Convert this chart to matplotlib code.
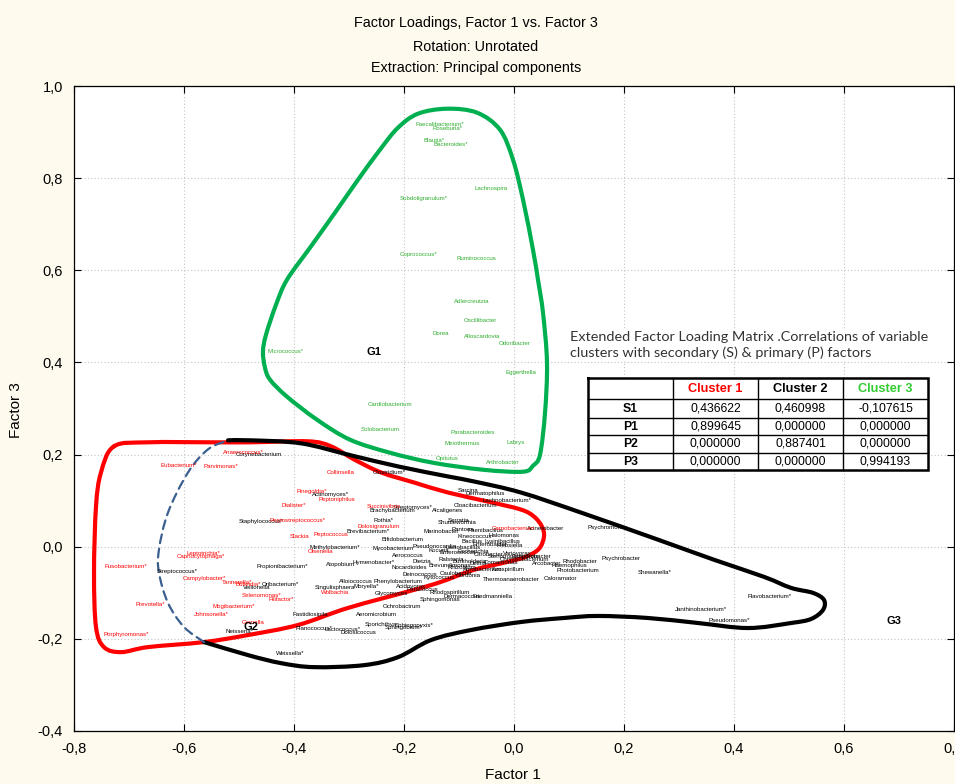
import numpy as np
import matplotlib
matplotlib.use("Agg")
import matplotlib.pyplot as plt
from matplotlib import font_manager
from matplotlib.path import Path
from matplotlib.patches import PathPatch
from matplotlib.ticker import FuncFormatter, MultipleLocator

# ---------------------------------------------------------------- fonts
_names = {f.name for f in font_manager.fontManager.ttflist}
SANS = "Liberation Sans"
NARROW = "Liberation Sans Narrow" if "Liberation Sans Narrow" in _names else SANS
TITLE_SIZE = 11.5 if NARROW != SANS else 10.4
NOTE_FONT = "Lato" if "Lato" in _names else SANS

# ---------------------------------------------------------------- data
# Cluster 3 (G1) variables: name, Factor 1 loading, Factor 3 loading
green_names = ["Faecalibacterium*", "Roseburia*", "Blautia*", "Bacteroides*", "Lachnospira",
               "Subdoligranulum*", "Coprococcus*", "Ruminococcus", "Adlercreutzia", "Oscillibacter",
               "Dorea", "Alloscardovia", "Odoribacter", "Micrococcus*", "Eggerthella",
               "Cardiobacterium", "Solobacterium", "Parabacteroides", "Labrys", "Meiothermus",
               "Opitutus", "Arthrobacter"]
green_x = [-0.180, -0.149, -0.165, -0.147, -0.071, -0.207, -0.207, -0.105, -0.109, -0.091,
           -0.149, -0.091, -0.027, -0.449, -0.015, -0.265, -0.278, -0.115, -0.013, -0.127,
           -0.142, -0.051]
green_y = [0.916, 0.907, 0.881, 0.873, 0.777, 0.755, 0.634, 0.625, 0.532, 0.491,
           0.462, 0.456, 0.441, 0.423, 0.378, 0.308, 0.254, 0.247, 0.226, 0.224,
           0.191, 0.182]

# Cluster 1 variables
red_names = ["Anaerococcus*", "Eubacterium*", "Parvimonas*", "Collinsella", "Finegoldia*",
             "Peptoniphilus", "Dialister*", "Succinivibrio", "Peptostreptococcus*", "Dolosigranulum",
             "Slackia", "Peptococcus", "Olsenella", "Carnobacterium", "Leptotrichia*",
             "Capnocytophaga*", "Fusobacterium*", "Campylobacter*", "Tannerella*", "Bulleidia*",
             "Selenomonas*", "Filifactor*", "Prevotella*", "Mogibacterium*", "Johnsonella*",
             "Gemella", "Wolbachia", "Porphyromonas*"]
red_x = [-0.529, -0.642, -0.565, -0.340, -0.396, -0.356, -0.422, -0.267, -0.444, -0.284,
         -0.407, -0.365, -0.375, -0.040, -0.596, -0.613, -0.744, -0.602, -0.531, -0.507,
         -0.495, -0.447, -0.689, -0.549, -0.582, -0.495, -0.351, -0.747]
red_y = [0.204, 0.176, 0.174, 0.161, 0.119, 0.102, 0.089, 0.087, 0.056, 0.043,
         0.022, 0.026, -0.011, 0.039, -0.015, -0.022, -0.043, -0.069, -0.078, -0.082,
         -0.106, -0.115, -0.126, -0.130, -0.148, -0.165, -0.100, -0.191]

# Cluster 2 variables
black_names = ["Corynebacterium", "Clostridium*", "Actinomyces*", "Streptomyces*", "Brachybacterium",
               "Alcaligenes", "Staphylococcus*", "Rothia*", "Brevibacterium*", "Marinobacter",
               "Bifidobacterium", "Methylobacterium*", "Mycobacterium", "Pseudonocardia",
               "Propionibacterium*", "Streptococcus*", "Veillonella", "Oribacterium*", "Atopobium",
               "Hymenobacter*", "Aerococcus", "Nocardioides", "Deinococcus", "Alloiococcus",
               "Phenylobacterium", "Moryella*", "Singulisphaera", "Glycomyces", "Ochrobactrum",
               "Fastidiosipila", "Aeromicrobium", "Planococcus*", "Lactococcus*", "Dolosicoccus",
               "Sporichthya", "Sphingobium*", "Sphingopyxis*", "Neisseria*", "Weissella*",
               "Rhodospirillum", "Sphingomonas", "Dermacoccus", "Friedmanniella",
               "Thermoanaerobacter", "Azospirillum", "Caloramator", "Photobacterium", "Arcobacter",
               "Haemophilus", "Rhodobacter", "Psychrobacter", "Psychromonas", "Shewanella*",
               "Janthinobacterium*", "Pseudomonas*", "Flavobacterium*", "Acinetobacter",
               "Cloacibacterium", "Sarcina", "Dermatophilus", "Lachnobacterium*", "Serratia",
               "Shuttleworthia", "Pantoea", "Paenibacillus", "Kineococcus", "Halomonas", "Bacillus",
               "Enterobacter", "Lysinibacillus", "Klebsiella", "Lactobacillus", "Kocuria",
               "Enterococcus", "Escherichia", "Citrobacter", "Stenotrophomonas", "Variovorax",
               "Enhydrobacter", "Chryseobacterium", "Ralstonia", "Burkholderia", "Delftia",
               "Comamonas", "Brevundimonas", "Rhizobium", "Agrobacterium", "Caulobacter",
               "Gordonia", "Kytococcus", "Dietzia", "Paracoccus", "Acidovorax"]
black_x = [-0.505, -0.256, -0.367, -0.220, -0.262, -0.149, -0.500, -0.256, -0.305, -0.165,
           -0.240, -0.371, -0.258, -0.185, -0.469, -0.649, -0.493, -0.458, -0.342, -0.293,
           -0.222, -0.222, -0.202, -0.318, -0.256, -0.291, -0.362, -0.253, -0.238, -0.402,
           -0.287, -0.398, -0.344, -0.316, -0.271, -0.235, -0.216, -0.524, -0.433, -0.153,
           -0.171, -0.129, -0.076, -0.056, -0.040, 0.055, 0.078, 0.033, 0.069, 0.089,
           0.160, 0.133, 0.225, 0.293, 0.353, 0.425, 0.024, -0.109, -0.102, -0.089,
           -0.058, -0.120, -0.138, -0.113, -0.084, -0.102, -0.047, -0.095, -0.076, -0.053,
           -0.031, -0.125, -0.156, -0.135, -0.102, -0.073, -0.047, -0.020, -0.004, -0.025,
           -0.138, -0.111, -0.080, -0.055, -0.156, -0.120, -0.093, -0.135, -0.105, -0.165,
           -0.185, -0.196, -0.215]
black_y = [0.200, 0.161, 0.113, 0.085, 0.078, 0.078, 0.054, 0.056, 0.033, 0.033,
           0.015, -0.002, -0.004, 0.000, -0.043, -0.054, -0.089, -0.082, -0.039, -0.035,
           -0.020, -0.046, -0.061, -0.076, -0.076, -0.087, -0.089, -0.102, -0.130, -0.148,
           -0.148, -0.178, -0.180, -0.187, -0.169, -0.176, -0.171, -0.185, -0.232, -0.100,
           -0.115, -0.109, -0.109, -0.072, -0.050, -0.069, -0.052, -0.037, -0.041, -0.033,
           -0.026, 0.041, -0.056, -0.137, -0.161, -0.109, 0.039, 0.089, 0.122, 0.115,
           0.100, 0.056, 0.052, 0.037, 0.035, 0.022, 0.024, 0.011, 0.004, 0.011,
           0.002, -0.002, -0.009, -0.013, -0.011, -0.017, -0.022, -0.015, -0.022, -0.028,
           -0.028, -0.033, -0.037, -0.035, -0.041, -0.046, -0.050, -0.059, -0.063, -0.067,
           -0.033, -0.093, -0.087]

# Group tags
group_names = ["G1", "G2", "G3"]
group_x = [-0.269, -0.491, 0.678]
group_y = [0.423, -0.174, -0.161]

# Hand-drawn cluster outlines (Factor 1, Factor 3); closed outlines list each vertex once
g1_outline_x = [-0.4564, -0.4509, -0.4327, -0.4127, -0.3709, -0.3255, -0.2836, -0.2436, -0.2109,
                -0.1745, -0.1218, -0.0673, -0.0255, -0.0018, 0.0164, 0.0345, 0.0436, 0.0527,
                0.0600, 0.0564, 0.0473, 0.0345, 0.0164, -0.0564, -0.1473, -0.2255, -0.2982,
                -0.3582, -0.4127, -0.4436, -0.4527]
g1_outline_y = [0.4233, 0.4602, 0.5253, 0.5796, 0.6490, 0.7250, 0.7966, 0.8618, 0.9095,
                0.9399, 0.9507, 0.9421, 0.9051, 0.8400, 0.7532, 0.6447, 0.5795, 0.5079,
                0.3994, 0.2909, 0.1997, 0.1758, 0.1628, 0.1671, 0.1823, 0.2040, 0.2323,
                0.2757, 0.3256, 0.3625, 0.3885]

c1_outline_x = [-0.7273, -0.6655, -0.5455, -0.4782, -0.3745, -0.3327, -0.2909, -0.2418, -0.1818,
                -0.1200, -0.0473, 0.0127, 0.0364, 0.0509, 0.0545, 0.0455, 0.0218, -0.0109,
                -0.0727, -0.1327, -0.1818, -0.3018, -0.3927, -0.4836, -0.5636, -0.6655,
                -0.7145, -0.7455, -0.7600, -0.7636, -0.7600, -0.7509]
c1_outline_y = [0.2179, 0.2266, 0.2266, 0.2266, 0.2288, 0.2179, 0.1895, 0.1612, 0.1394,
                0.1176, 0.0980, 0.0806, 0.0654, 0.0436, 0.0218, -0.0044, -0.0218, -0.0327,
                -0.0501, -0.0763, -0.0937, -0.1329, -0.1699, -0.1917, -0.2070, -0.2179,
                -0.2288, -0.2179, -0.1743, -0.0566, 0.0871, 0.1612]

c2_outline_x = [-0.5200, -0.4782, -0.3873, -0.2964, -0.2109, -0.1200, -0.0727, 0.0127, 0.1218,
                0.2618, 0.3636, 0.4545, 0.5036, 0.5436, 0.5636, 0.5618, 0.5400, 0.5036,
                0.4255, 0.3345, 0.2436, 0.1527, 0.0909, 0.0127, -0.0782, -0.1509, -0.2109,
                -0.2727, -0.3636, -0.4236, -0.4836, -0.5636]
c2_outline_y = [0.2309, 0.2309, 0.2244, 0.1983, 0.1743, 0.1525, 0.1416, 0.1176, 0.0741,
                0.0153, -0.0283, -0.0654, -0.0893, -0.1002, -0.1155, -0.1373, -0.1569, -0.1656,
                -0.1765, -0.1656, -0.1547, -0.1503, -0.1547, -0.1634, -0.1808, -0.2026, -0.2397,
                -0.2571, -0.2614, -0.2527, -0.2353, -0.2070]

c2_edge_x = [-0.5636, -0.6000, -0.6291, -0.6455, -0.6455, -0.6291, -0.5927, -0.5564, -0.5200]
c2_edge_y = [-0.2070, -0.1743, -0.1220, -0.0566, -0.0065, 0.0741, 0.1612, 0.2113, 0.2309]

# Extended factor loading matrix
table_clusters = ["Cluster 1", "Cluster 2", "Cluster 3"]
table_factors = ["S1", "P1", "P2", "P3"]
cluster1_corr = [0.436622, 0.899645, 0.000000, 0.000000]
cluster2_corr = [0.460998, 0.000000, 0.887401, 0.000000]
cluster3_corr = [-0.107615, 0.000000, 0.000000, 0.994193]

# ---------------------------------------------------------------- styling
RED = "#ff0000"
GREEN_TXT = "#2fae2f"
GREEN_LINE = "#00b050"
BLUE_DASH = "#3b5f8f"
BG = "#fffaee"
W, H = 955, 784

fig = plt.figure(figsize=(W / 100, H / 100), dpi=100, facecolor=BG)
ax = fig.add_axes([74 / W, (H - 731) / H, 880 / W, 645 / H])
ax.set_facecolor("white")
ax.set_xlim(-0.8, 0.8)
ax.set_ylim(-0.4, 1.0)
ax.xaxis.set_major_locator(MultipleLocator(0.2))
ax.yaxis.set_major_locator(MultipleLocator(0.2))
fmt = FuncFormatter(lambda v, p: f"{v:.1f}".replace(".", ",").replace("-0,0", "0,0"))
ax.xaxis.set_major_formatter(fmt)
ax.yaxis.set_major_formatter(fmt)
ax.tick_params(direction="in", top=True, right=True, length=5, width=0.8,
               labelsize=10.5, pad=8)
for lab in ax.get_xticklabels() + ax.get_yticklabels():
    lab.set_fontfamily(SANS)
ax.grid(True, linestyle=(0, (1, 2)), color="#c4c4c4", linewidth=0.8)
ax.set_axisbelow(True)
for s in ax.spines.values():
    s.set_linewidth(0.9)


def smooth_path(xs, ys, closed):
    """Catmull-Rom outline through the given vertices, returned as a cubic Bezier Path
    built in display space so the curvature is even on screen."""
    pts = ax.transData.transform(np.column_stack([xs, ys]))
    n = len(pts)
    if closed:
        P = np.vstack([pts[-1], pts, pts[0], pts[1]])
        segs = n
    else:
        P = np.vstack([pts[0], pts, pts[-1]])
        segs = n - 1
    verts = [P[1]]
    codes = [Path.MOVETO]
    for i in range(1, segs + 1):
        p0, p1, p2, p3 = P[i - 1], P[i], P[i + 1], P[i + 2]
        verts += [p1 + (p2 - p0) / 6.0, p2 - (p3 - p1) / 6.0, p2]
        codes += [Path.CURVE4] * 3
    verts = ax.transData.inverted().transform(np.array(verts))
    return Path(verts, codes)


def outline(xs, ys, closed, **kw):
    ax.add_patch(PathPatch(smooth_path(xs, ys, closed), fill=False, capstyle="round",
                           joinstyle="round", zorder=3, **kw))


outline(g1_outline_x, g1_outline_y, True, edgecolor=GREEN_LINE, lw=3.0)
outline(c1_outline_x, c1_outline_y, True, edgecolor=RED, lw=3.0)
outline(c2_outline_x, c2_outline_y, False, edgecolor="black", lw=3.0)
outline(c2_edge_x, c2_edge_y, False, edgecolor=BLUE_DASH, lw=1.6, linestyle=(0, (4, 2.5)))


# variable labels
def put_labels(names, xs, ys, color):
    for n, x, y in zip(names, xs, ys):
        ax.text(x, y, n, color=color, fontsize=4.4, family=SANS,
                ha="left", va="center", zorder=4)


put_labels(black_names, black_x, black_y, "black")
put_labels(red_names, red_x, red_y, RED)
put_labels(green_names, green_x, green_y, GREEN_TXT)

for n, x, y in zip(group_names, group_x, group_y):
    ax.text(x, y, n, fontsize=8, fontweight="bold", family=SANS, ha="left", va="center", zorder=5)

# titles and axis labels
title_lines = ["Factor Loadings, Factor 1 vs. Factor 3", "Rotation: Unrotated",
               "Extraction: Principal components"]
for t, py in zip(title_lines, [23, 47, 68]):
    fig.text(476 / W, 1 - py / H, t, ha="center", va="center", fontsize=TITLE_SIZE, family=NARROW)
fig.text(513 / W, 1 - 775 / H, "Factor 1", ha="center", va="center", fontsize=11, family=SANS)
fig.text(16 / W, 1 - 410 / H, "Factor 3", ha="center", va="center", rotation=90,
         fontsize=11, family=SANS)

# note above the matrix
note = ("Extended Factor Loading Matrix .Correlations of variable\n"
        "clusters with secondary (S) & primary (P) factors")
fig.text(570 / W, 1 - 345 / H, note, ha="left", va="center", fontsize=10.4, family=NOTE_FONT,
         color="#333333", linespacing=1.3,
         bbox=dict(facecolor="white", edgecolor="none", pad=1.5))

# matrix table
tx0, tx1, ty0, ty1 = 588, 928, 378, 470
tab = fig.add_axes([tx0 / W, (H - ty1) / H, (tx1 - tx0) / W, (ty1 - ty0) / H])
tab.set_xlim(0, 4)
tab.set_ylim(92, 0)
tab.axis("off")
tab.add_patch(plt.Rectangle((0, 0), 4, 92, facecolor="white", edgecolor="none", zorder=0))
row_edges = [0, 21, 39.5, 56.5, 74.5, 92]
for yv in row_edges[1:-1]:
    tab.plot([0, 4], [yv, yv], color="black", lw=1.0, clip_on=False)
for xv in [1, 2, 3]:
    tab.plot([xv, xv], [0, 92], color="black", lw=1.0, clip_on=False)
tab.plot([0, 4, 4, 0, 0], [0, 0, 92, 92, 0], color="black", lw=1.8, clip_on=False,
         solid_joinstyle="miter")

head_colors = [RED, "black", "#33cc33"]
for j, (name, c) in enumerate(zip(table_clusters, head_colors)):
    tab.text(j + 1.5, (row_edges[0] + row_edges[1]) / 2 + 0.5, name, ha="center", va="center",
             fontsize=9.2, fontweight="bold", color=c, family=SANS)
columns = [cluster1_corr, cluster2_corr, cluster3_corr]
for i, f in enumerate(table_factors):
    yc = (row_edges[i + 1] + row_edges[i + 2]) / 2 + 0.5
    tab.text(0.5, yc, f, ha="center", va="center", fontsize=8.8, fontweight="bold", family=SANS)
    for j, col in enumerate(columns):
        s = f"{col[i]:.6f}".replace(".", ",")
        tab.text(j + 1.5, yc, s, ha="center", va="center", fontsize=8.8, family=SANS)

fig.savefig("out.png", dpi=100, facecolor=BG)
